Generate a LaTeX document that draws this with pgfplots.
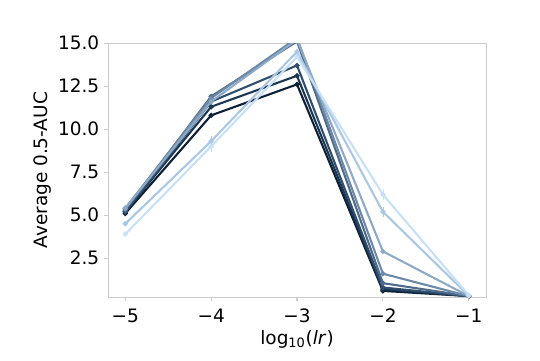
\documentclass[border=0pt]{standalone}
\usepackage{pgfplots}
\pgfplotsset{compat=1.18}
\usepackage{fontspec}
\setmainfont{DejaVu Sans}

\definecolor{c1}{HTML}{0D2035}
\definecolor{c2}{HTML}{1B3652}
\definecolor{c3}{HTML}{2F4D6C}
\definecolor{c4}{HTML}{4E6B89}
\definecolor{c5}{HTML}{6C89A7}
\definecolor{c6}{HTML}{8EA9C5}
\definecolor{c7}{HTML}{ABC7E1}
\definecolor{c8}{HTML}{C8E0F6}
\definecolor{spine}{HTML}{CCCCCC}

\begin{document}
\fontsize{13.3}{16}\selectfont
\begin{tikzpicture}
\begin{axis}[
    scale only axis,
    width=272pt, height=183pt,
    xmin=-5.2, xmax=-0.8,
    ymin=0.23, ymax=15,
    xtick={-5,-4,-3,-2,-1},
    xticklabels={−5,−4,−3,−2,−1},
    ytick={2.5,5,7.5,10,12.5,15},
    ticklabel style={font=\fontsize{13.3}{16}\selectfont},
    label style={font=\fontsize{13.3}{16}\selectfont},
    xlabel={log\textsubscript{10}(\textit{lr})},
    ylabel={Average 0.5-AUC},
    axis line style={spine},
    tick style={spine, line width=0.8pt},
    tick align=outside,
    major tick length=2.8pt,
    xtick pos=bottom, ytick pos=left,
    xticklabel style={yshift=-1pt},
    yticklabel style={xshift=1pt, /pgf/number format/.cd, fixed, fixed zerofill, precision=1, assume math mode=true},
    xlabel style={yshift=4pt},
    ylabel style={yshift=-4pt},
    every axis plot/.append style={line width=1.5pt, mark=*, mark size=1pt},
    clip=true,
]
\addplot[c1] coordinates {
    (-5, 5.1) (-4, 10.8) (-3, 12.6) (-2, 0.6) (-1, 0.3)
};
\addplot[c2] coordinates {
    (-5, 5.2) (-4, 11.3) (-3, 13.1) (-2, 0.7) (-1, 0.3)
};
\addplot[c3] coordinates {
    (-5, 5.2) (-4, 11.6) (-3, 13.7) (-2, 0.8) (-1, 0.3)
};
\addplot[c4] coordinates {
    (-5, 5.3) (-4, 11.9) (-3, 15.1) (-2, 1.05) (-1, 0.3)
};
\addplot[c5] coordinates {
    (-5, 5.4) (-4, 11.8) (-3, 15.3) (-2, 1.6) (-1, 0.3)
};
\addplot[c6] coordinates {
    (-5, 5.4) (-4, 11.6) (-3, 15.2) (-2, 2.9) (-1, 0.3)
};
\addplot[c7, error bars/.cd, y dir=both, y explicit, error mark=none] coordinates {
    (-5, 4.5) (-4, 9.3) +- (0, 0.3) (-3, 14.5) (-2, 5.2) +- (0, 0.3) (-1, 0.32)
};
\addplot[c8, error bars/.cd, y dir=both, y explicit, error mark=none] coordinates {
    (-5, 3.9) (-4, 9.0) +- (0, 0.3) (-3, 14.2) (-2, 6.2) +- (0, 0.3) (-1, 0.35)
};
\end{axis}
\path[use as bounding box] ([shift={(-77.8pt,-45.4pt)}]current axis.south west) rectangle ([shift={(38.9pt,31pt)}]current axis.north east);
\end{tikzpicture}
\end{document}
